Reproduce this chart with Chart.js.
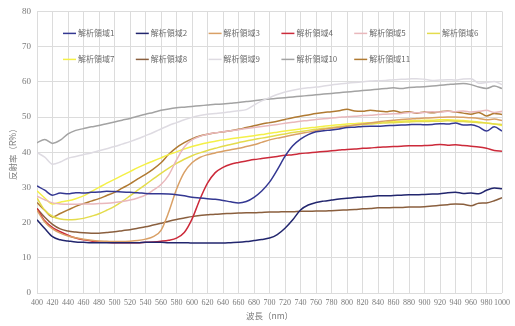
<!DOCTYPE html>
<html>
<head>
<meta charset="utf-8">
<script src="https://cdn.jsdelivr.net/npm/chart.js@4/dist/chart.umd.min.js"></script>
<style>
  html, body { margin: 0; padding: 0; background: #ffffff; }
  #wrap { width: 515px; height: 326px; }
</style>
</head>
<body>
<div id="wrap"><canvas id="c" width="515" height="326"></canvas></div>
<script>
// Wavelength grid (nm), 10 nm step
const wavelengths = [];
for (let w = 400; w <= 1000; w += 10) wavelengths.push(w);

// Tick values on the wavelength axis
const xTicks = [400,420,440,460,480,500,520,540,560,580,600,620,640,660,680,700,720,740,760,780,800,820,840,860,880,900,920,940,960,980,1000];

const seriesNames = ['解析領域1','解析領域2','解析領域3','解析領域4','解析領域5','解析領域6','解析領域7','解析領域8','解析領域9','解析領域10','解析領域11'];

// Reflectance (R%) per region, one value per wavelength above
const region1 = [30.4,29.2,27.8,28.4,28.2,28.5,28.4,28.6,28.7,28.9,28.8,28.7,28.6,28.5,28.3,28.2,28.2,28.1,27.9,27.6,27.2,27.0,26.8,26.6,26.3,25.9,25.6,26.0,27.2,29.0,31.5,35.0,38.8,41.8,43.7,45.0,45.8,46.1,46.3,46.6,47.0,47.1,47.3,47.4,47.4,47.5,47.6,47.7,47.8,47.9,47.8,47.9,48.1,48.0,48.3,47.7,47.8,47.2,46.0,47.2,46.0];
const region2 = [20.8,18.3,16.0,15.1,14.8,14.5,14.4,14.3,14.3,14.3,14.3,14.3,14.3,14.3,14.4,14.4,14.4,14.3,14.3,14.3,14.2,14.2,14.2,14.2,14.2,14.3,14.4,14.6,14.9,15.2,15.6,16.6,18.4,20.8,23.6,25.0,25.7,26.1,26.4,26.7,26.9,27.1,27.3,27.4,27.6,27.6,27.7,27.8,27.9,27.9,28.0,28.1,28.2,28.5,28.6,28.3,28.4,28.2,29.2,29.8,29.6];
const region3 = [23.5,20.2,18.2,17.0,16.2,15.7,15.3,15.0,14.8,14.7,14.6,14.6,14.7,14.9,15.3,16.0,17.8,23.0,29.5,34.3,37.0,38.5,39.3,39.8,40.3,40.7,41.1,41.6,42.1,42.8,43.5,44.0,44.4,44.9,45.3,45.7,46.1,46.5,46.8,47.1,47.4,47.7,48.0,48.3,48.6,48.9,49.1,49.3,49.4,49.6,49.7,49.8,49.9,50.0,50.0,49.9,49.8,49.6,49.2,49.4,49.0];
const region4 = [24.0,20.5,18.6,17.4,16.4,15.6,15.1,14.8,14.5,14.4,14.3,14.3,14.3,14.3,14.4,14.5,14.7,15.0,15.6,17.2,21.0,26.5,31.2,34.2,35.7,36.6,37.1,37.5,37.9,38.2,38.5,38.8,39.1,39.3,39.6,39.8,40.0,40.2,40.4,40.6,40.8,40.9,41.1,41.2,41.4,41.5,41.6,41.7,41.8,41.8,41.9,42.0,42.2,42.0,42.1,41.9,41.7,41.5,41.1,40.5,40.3];
const region5 = [27.5,26.5,25.6,25.3,25.2,25.2,25.3,25.3,25.4,25.5,25.7,26.0,26.4,27.0,27.8,29.2,30.8,33.5,37.8,41.5,43.5,44.5,45.1,45.5,45.8,46.1,46.4,46.7,47.0,47.3,47.6,47.9,48.2,48.5,48.8,49.0,49.3,49.5,49.7,49.9,50.1,50.2,50.4,50.5,50.7,50.8,50.9,51.0,51.3,51.2,51.3,51.5,51.4,51.6,51.5,51.7,51.4,51.6,51.9,51.3,51.6];
const region6 = [27.0,23.5,21.8,21.0,20.8,20.9,21.2,21.8,22.5,23.5,24.6,26.0,27.6,29.2,30.8,32.4,34.0,35.5,36.8,38.0,39.0,39.8,40.5,41.1,41.7,42.2,42.7,43.2,43.6,44.0,44.4,44.8,45.2,45.6,45.9,46.2,46.5,46.8,47.0,47.3,47.5,47.7,47.9,48.0,48.2,48.3,48.4,48.5,48.6,48.7,48.7,48.8,48.8,48.9,48.8,48.7,48.6,48.4,48.3,48.0,47.9];
const region7 = [29.0,27.0,25.3,25.8,26.2,26.8,27.6,28.8,30.0,31.2,32.3,33.4,34.5,35.6,36.6,37.5,38.4,39.3,40.1,40.9,41.6,42.2,42.7,43.1,43.5,43.8,44.1,44.4,44.7,45.0,45.4,45.7,46.0,46.3,46.6,46.9,47.1,47.4,47.6,47.8,48.0,48.1,48.3,48.4,48.5,48.6,48.7,48.8,48.9,49.0,49.1,49.1,49.2,49.2,49.1,49.0,48.8,48.6,48.3,48.0,47.6];
const region8 = [24.0,21.5,19.5,18.2,17.6,17.3,17.1,17.0,17.0,17.2,17.4,17.7,18.0,18.4,18.8,19.3,19.8,20.4,20.9,21.3,21.7,22.0,22.2,22.4,22.5,22.6,22.7,22.8,22.8,22.9,23.0,23.0,23.1,23.1,23.2,23.2,23.3,23.3,23.4,23.5,23.6,23.7,23.9,24.0,24.2,24.2,24.3,24.3,24.4,24.4,24.5,24.7,24.9,25.1,25.3,25.2,24.8,25.5,25.6,26.2,27.1];
const region9 = [39.9,38.6,36.6,37.2,38.3,38.8,39.3,39.8,40.4,41.0,41.6,42.3,43.0,43.8,44.7,45.6,46.6,47.6,48.4,49.2,49.9,50.4,50.8,51.0,51.2,51.5,51.8,52.1,53.4,54.6,55.5,56.4,57.1,57.6,58.0,58.3,58.5,58.8,59.1,59.4,59.6,59.8,60.0,60.2,60.3,60.4,60.6,60.7,60.8,60.9,60.7,60.4,60.5,60.6,60.5,60.8,60.9,59.6,59.8,60.1,59.2];
const region10 = [42.7,43.6,42.5,43.4,45.2,46.2,46.7,47.2,47.6,48.1,48.6,49.1,49.6,50.2,50.8,51.3,51.9,52.3,52.6,52.8,53.0,53.2,53.4,53.6,53.7,53.9,54.1,54.4,54.6,54.9,55.1,55.3,55.5,55.7,55.9,56.1,56.3,56.5,56.7,56.9,57.1,57.3,57.5,57.7,57.9,58.1,58.3,58.1,58.4,58.5,58.6,58.8,59.0,59.2,59.4,59.5,59.2,58.5,58.1,58.8,58.1];
const region11 = [25.7,23.5,21.6,22.6,23.6,24.6,25.4,26.1,26.8,27.7,28.6,29.8,31.0,32.4,33.7,35.2,37.0,39.4,41.3,42.7,43.8,44.6,45.1,45.5,45.8,46.1,46.5,47.0,47.5,48.0,48.4,48.8,49.3,49.8,50.2,50.6,51.0,51.3,51.5,51.8,52.2,51.7,51.6,51.9,51.7,51.5,51.8,51.3,51.5,51.1,51.4,51.2,51.5,51.7,51.4,51.1,50.8,51.3,50.3,51.0,50.7];

const seriesValues = [region1, region2, region3, region4, region5, region6, region7, region8, region9, region10, region11];
const seriesColors = ['#343892','#22266e','#d9a066','#cc2a3a','#e9b8bc','#e4dc4c','#f4f048','#8a5f3e','#dedbe2','#a3a3a3','#b07a32'];

const datasets = seriesNames.map((name, i) => ({
  label: name,
  data: wavelengths.map((w, j) => ({ x: w, y: seriesValues[i][j] })),
  borderColor: seriesColors[i],
  backgroundColor: seriesColors[i],
  borderWidth: 1.5,
  pointRadius: 0,
  fill: false,
  cubicInterpolationMode: 'monotone'
}));

// Legend drawn inside the plot area, two rows of six columns
const innerLegend = {
  id: 'innerLegend',
  afterDatasetsDraw(chart) {
    const { ctx, chartArea } = chart;
    const colW = 72.8, perRow = 6;
    ctx.save();
    ctx.font = '8px "Noto Sans CJK JP", "Noto Sans", sans-serif';
    ctx.textBaseline = 'middle';
    ctx.textAlign = 'left';
    chart.data.datasets.forEach((ds, i) => {
      const col = i % perRow, row = Math.floor(i / perRow);
      const x = chartArea.left + 26 + col * colW;
      const y = chartArea.top + 22 + row * 26;
      ctx.strokeStyle = ds.borderColor;
      ctx.lineWidth = 1.5;
      ctx.beginPath();
      ctx.moveTo(x, y);
      ctx.lineTo(x + 13, y);
      ctx.stroke();
      ctx.fillStyle = '#6b6b6b';
      ctx.fillText(ds.label, x + 15, y);
    });
    ctx.restore();
  }
};

new Chart(document.getElementById('c'), {
  type: 'line',
  data: { datasets },
  options: {
    responsive: false,
    animation: false,
    layout: { padding: { top: 9, right: 8, left: 0, bottom: 0 } },
    plugins: { legend: { display: false }, tooltip: { enabled: false } },
    scales: {
      x: {
        type: 'linear',
        min: 400,
        max: 1000,
        afterFit: s => { s.height = 33; },
        afterBuildTicks: s => { s.ticks = xTicks.map(v => ({ value: v })); },
        ticks: {
          autoSkip: false,
          maxRotation: 0,
          padding: 5,
          color: '#7a7a7a',
          font: { family: '"Liberation Serif", serif', size: 8 },
          callback: v => String(v)
        },
        grid: { color: '#dcdcdc', lineWidth: 1, drawTicks: false },
        border: { display: false },
        title: {
          display: true,
          text: '波長（nm）',
          color: '#7a7a7a',
          font: { family: '"Noto Sans CJK JP", sans-serif', size: 8.5 },
          padding: { top: 0, bottom: 5 }
        }
      },
      y: {
        min: 0,
        max: 80,
        afterFit: s => { s.width = 37; },
        ticks: {
          stepSize: 10,
          padding: 6,
          color: '#7a7a7a',
          font: { family: '"Liberation Serif", serif', size: 9 }
        },
        grid: { color: '#dcdcdc', lineWidth: 1, drawTicks: false },
        border: { display: false },
        title: {
          display: true,
          text: '反射率（R%）',
          color: '#7a7a7a',
          font: { family: '"Noto Sans CJK JP", sans-serif', size: 8.5 },
          padding: { top: 8, bottom: 0 }
        }
      }
    }
  },
  plugins: [innerLegend]
});
</script>
</body>
</html>
